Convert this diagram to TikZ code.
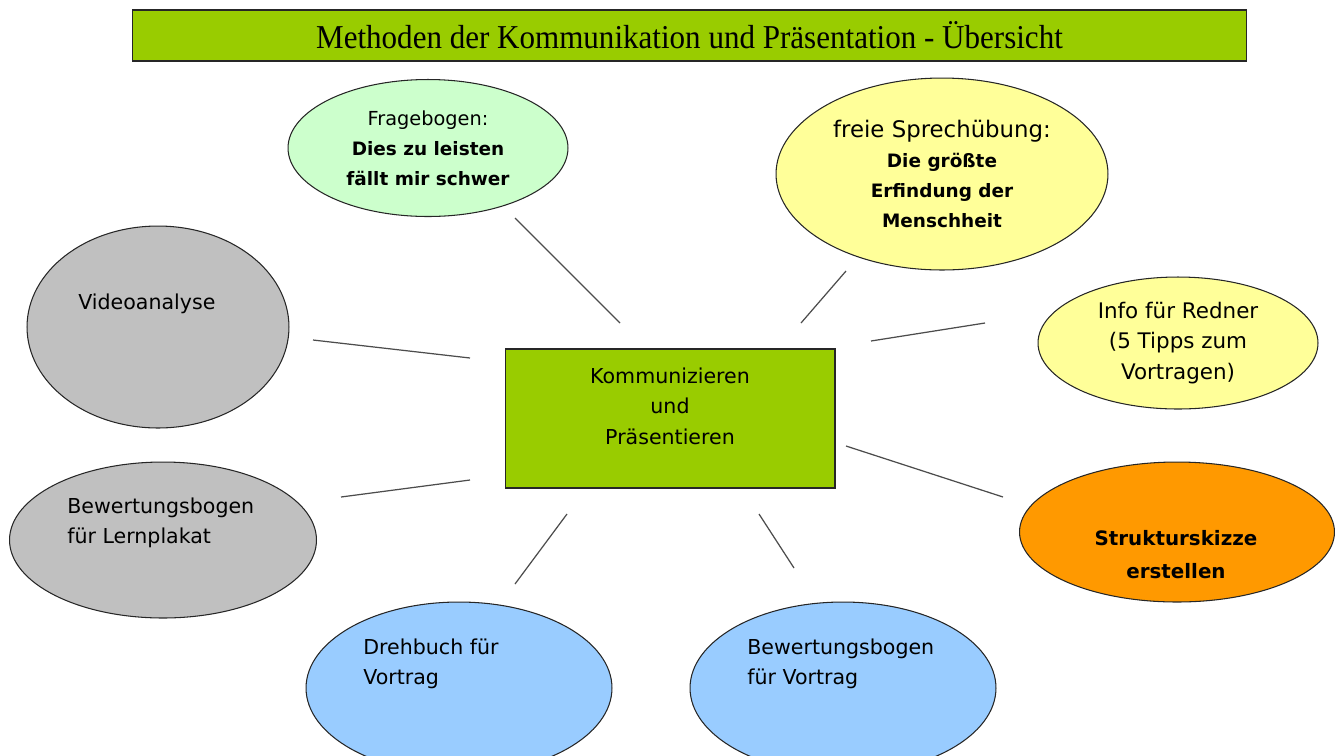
\documentclass[tikz,border=0pt]{standalone}
\usepackage{fontspec}
\usepackage{tikz}
\usepackage{xcolor}
\usetikzlibrary{shapes.geometric}
\setmainfont{Liberation Serif}
\newfontfamily\handfont{DejaVu Sans}
\definecolor{LeafGreen}{RGB}{153,204,0}
\definecolor{MintGreen}{RGB}{204,255,204}
\definecolor{PaleYellow}{RGB}{255,255,153}
\definecolor{Tangerine}{RGB}{255,153,0}
\definecolor{SkyBlue}{RGB}{153,204,255}
\definecolor{SilverGray}{RGB}{192,192,192}

\begin{document}
\begin{tikzpicture}[x=0.02cm, y=-0.02cm,
  every node/.style={font=\handfont\fontsize{11.7}{17.3}\selectfont, inner sep=0pt},
  small/.style={font=\handfont\fontsize{10.5}{17}\selectfont},
  bubble/.style={draw=black!85, line width=0.6pt, ellipse, align=center},
  panel/.style={draw=black!85, line width=0.6pt, fill=LeafGreen},
  link/.style={draw=black!70, line width=0.7pt}]
\useasboundingbox (0,0) rectangle (1335,755);
\clip (0,0) rectangle (1335,755);

% header
\node[panel, minimum width=22.3cm, minimum height=1.02cm, font=\rmfamily\fontsize{19}{19}\selectfont] (title) at (689.5,35.5)
  {\scalebox{0.93}[1]{Methoden der Kommunikation und Präsentation - Übersicht}};

% centre
\node[panel, minimum width=6.6cm, minimum height=2.78cm] (core) at (670,418.5) {};
\node[align=center] (coreT) at (670,406) {Kommunizieren\\ und\\ Präsentieren};

% bubbles round it
\node[bubble, small, fill=MintGreen, minimum width=5.6cm, minimum height=2.74cm] (frage) at (428,148)
  {{\fontsize{11}{17}\selectfont Fragebogen:}\\ \textbf{Dies zu leisten}\\ \textbf{fällt mir schwer}};
\node[bubble, small, fill=PaleYellow, minimum width=6.64cm, minimum height=3.84cm] (sprech) at (942,174)
  {{\fontsize{13}{17}\selectfont freie Sprechübung:}\\ \textbf{Die größte}\\ \textbf{Erfindung der}\\ \textbf{Menschheit}};
\node[bubble, fill=PaleYellow, minimum width=5.6cm, minimum height=2.64cm, font=\handfont\fontsize{12.2}{17.3}\selectfont] (redner) at (1178,343)
  {Info für Redner\\ (5 Tipps zum\\ Vortragen)};
\node[bubble, fill=Tangerine, minimum width=6.3cm, minimum height=2.8cm] (skizze) at (1177,532) {};
\node[align=center, font=\handfont\bfseries\fontsize{11.3}{18.7}\selectfont] (skizzeT) at (1176,554.5) {Strukturskizze\\ erstellen};
\node[bubble, fill=SkyBlue, minimum width=6.12cm, minimum height=3.44cm] (bewvortrag) at (843,688) {};
\node[align=left, anchor=west] (bewvortragT) at (747,664) {Bewertungsbogen\\ für Vortrag};
\node[bubble, fill=SkyBlue, minimum width=6.12cm, minimum height=3.44cm] (drehbuch) at (459,688) {};
\node[align=left, anchor=west] (drehbuchT) at (363,664) {Drehbuch für\\ Vortrag};
\node[bubble, fill=SilverGray, minimum width=6.14cm, minimum height=3.12cm] (plakat) at (163,540) {};
\node[align=left, anchor=west] (plakatT) at (67,523) {Bewertungsbogen\\ für Lernplakat};
\node[bubble, fill=SilverGray, minimum width=5.24cm, minimum height=4.04cm] (video) at (158,327) {};
\node[anchor=west] (videoT) at (78,304) {Videoanalyse};

% loose spokes
\coordinate (frage-a) at (515,218);   \coordinate (frage-b) at (620,323);
\coordinate (sprech-a) at (846,271);  \coordinate (sprech-b) at (801,323);
\coordinate (redner-a) at (985,323);  \coordinate (redner-b) at (871,341);
\coordinate (skizze-a) at (1003,497); \coordinate (skizze-b) at (846,446);
\coordinate (bewvortrag-a) at (794,568); \coordinate (bewvortrag-b) at (759,514);
\coordinate (drehbuch-a) at (515,584); \coordinate (drehbuch-b) at (567,514);
\coordinate (plakat-a) at (341,497);  \coordinate (plakat-b) at (470,480);
\coordinate (video-a) at (313,340);   \coordinate (video-b) at (470,358);

\draw[link] (frage-a) -- (frage-b);
\draw[link] (sprech-a) -- (sprech-b);
\draw[link] (redner-a) -- (redner-b);
\draw[link] (skizze-a) -- (skizze-b);
\draw[link] (bewvortrag-a) -- (bewvortrag-b);
\draw[link] (drehbuch-a) -- (drehbuch-b);
\draw[link] (plakat-a) -- (plakat-b);
\draw[link] (video-a) -- (video-b);
\end{tikzpicture}
\end{document}
